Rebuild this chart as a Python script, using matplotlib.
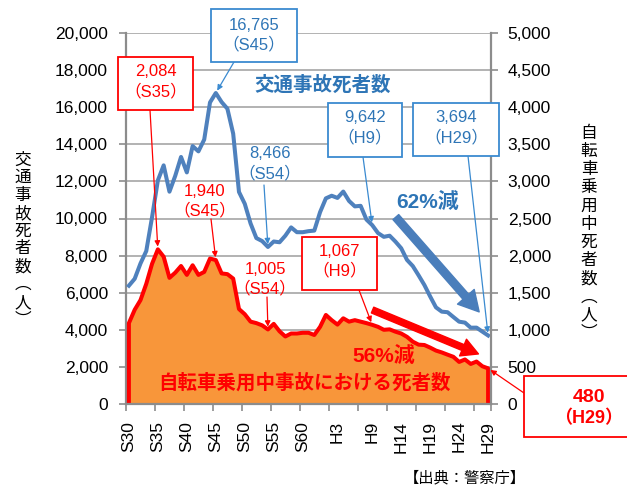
import matplotlib
matplotlib.use('Agg')
import matplotlib.pyplot as plt
from matplotlib.patches import Rectangle, FancyArrowPatch
from matplotlib.ticker import FuncFormatter

plt.rcParams['font.family'] = ['Liberation Sans', 'Noto Sans CJK JP']

# data (S30 = 1955 ... H29 = 2017)
years = list(range(1955, 2018))
traffic_deaths = [6379, 6751, 7575, 8248, 10079, 12055, 12865, 11445, 12301, 13318,
                  12484, 13904, 13618, 14256, 16257, 16765, 16278, 15918, 14574, 11432,
                  10792, 9734, 8945, 8783, 8466, 8760, 8719, 9073, 9520, 9262,
                  9261, 9317, 9347, 10344, 11086, 11227, 11109, 11452, 10945, 10653,
                  10684, 9943, 9642, 9214, 9012, 9073, 8757, 8396, 7768, 7436,
                  6937, 6415, 5796, 5209, 4979, 4948, 4691, 4438, 4388, 4113,
                  4117, 3904, 3694]
bicycle_deaths = [1090, 1270, 1400, 1620, 1890, 2084, 1985, 1700, 1770, 1860,
                  1740, 1870, 1740, 1780, 1960, 1940, 1760, 1750, 1690, 1280,
                  1210, 1110, 1090, 1060, 1005, 1080, 980, 910, 950, 950,
                  960, 960, 930, 1040, 1200, 1130, 1070, 1155, 1110, 1130,
                  1110, 1090, 1067, 1040, 1000, 1006, 975, 950, 905, 840,
                  800, 795, 760, 720, 695, 665, 636, 567, 600, 540,
                  572, 509, 480]
tick_years = [1955, 1960, 1965, 1970, 1975, 1980, 1985, 1991, 1997, 2002, 2007, 2012, 2017]
tick_labels = ['S30', 'S35', 'S40', 'S45', 'S50', 'S55', 'S60', 'H3', 'H9', 'H14', 'H19', 'H24', 'H29']

BLUE_LINE = '#4F81BD'
BLUE_TXT = '#2E75B6'
BLUE_BOX = '#3A8AD0'
RED = '#FF0000'
ORANGE = '#F8963A'
GRAY = '#8C8C8C'

W, H = 627, 491


def fx(px):
    return px / W


def fy(py):
    return 1 - py / H


fig = plt.figure(figsize=(W / 100, H / 100), dpi=100)
ax = fig.add_axes([fx(126), fy(404), (491 - 126) / W, (404 - 33) / H])
ax2 = ax.twinx()

ax.plot(years, traffic_deaths, color=BLUE_LINE, lw=2.9, zorder=3)
ax2.fill_between(years, bicycle_deaths, 0, color=ORANGE, lw=0, zorder=1)
ax2.plot([years[0]] + years + [years[-1]], [0] + bicycle_deaths + [0], color=RED, lw=2.9, zorder=2)

ax.set_xlim(1954.5, 2017.5)
ax.set_ylim(0, 20000)
ax2.set_ylim(0, 5000)

ax.set_yticks(range(0, 20001, 2000))
ax2.set_yticks(range(0, 5001, 500))
fmt = FuncFormatter(lambda v, p: f'{int(v):,}')
ax.yaxis.set_major_formatter(fmt)
ax2.yaxis.set_major_formatter(fmt)
ax.yaxis.grid(True, color='#A6A6A6', lw=1.2)
ax.set_axisbelow(True)

ax.set_xticks([1954.5 + 5 * k for k in range(13)] + [2017.5])
ax.set_xticklabels([])
ax.set_xticks(tick_years, labels=tick_labels, minor=True)
ax.tick_params(axis='x', which='major', length=5, width=1.2, color=GRAY, direction='out')
ax.tick_params(axis='x', which='minor', length=0, pad=12, labelrotation=90, labelsize=12.5)
ax.tick_params(axis='y', length=5, width=1.2, color=GRAY, direction='out', labelsize=12.5, pad=8)
ax2.tick_params(axis='y', length=5, width=1.2, color=GRAY, direction='out', labelsize=12.5, pad=7)

for a in (ax, ax2):
    for s in a.spines.values():
        s.set_visible(False)
ax.spines['left'].set_visible(True)
ax.spines['left'].set_color(GRAY)
ax.spines['left'].set_linewidth(1.6)
ax2.spines['bottom'].set_visible(True)
ax2.spines['bottom'].set_color(GRAY)
ax2.spines['bottom'].set_linewidth(1.6)
ax2.spines['right'].set_visible(True)
ax2.spines['right'].set_color(GRAY)
ax2.spines['right'].set_linewidth(1.6)


def box(x0, y0, x1, y1, color):
    fig.add_artist(Rectangle((fx(x0), fy(y1)), (x1 - x0) / W, (y1 - y0) / H,
                             transform=fig.transFigure, facecolor='white',
                             edgecolor=color, lw=1.3, zorder=4))


def label(px, py, s, color, size=12, weight='normal'):
    fig.text(fx(px), fy(py), s, color=color, fontsize=size, fontweight=weight,
             ha='center', va='center', zorder=5)


def pointer(a, x, y, px, py, color):
    a.annotate('', xy=(x, y), xycoords='data', xytext=(fx(px), fy(py)),
               textcoords='figure fraction',
               arrowprops=dict(arrowstyle='-|>', color=color, lw=0.9,
                               mutation_scale=8, shrinkA=0, shrinkB=2))


# traffic deaths annotations
box(211, 9, 297, 62, BLUE_BOX)
label(254, 25, '16,765', BLUE_TXT)
label(254, 44, '（S45）', BLUE_TXT)
pointer(ax, 1970, traffic_deaths[15], 234, 62, BLUE_BOX)

label(323, 85, '交通事故死者数', BLUE_TXT, 14, 'bold')

label(270, 154, '8,466', BLUE_TXT)
label(270, 173, '（S54）', BLUE_TXT)
pointer(ax, 1979, traffic_deaths[24], 264, 185, BLUE_BOX)

box(328, 103, 402, 157, BLUE_BOX)
label(365, 118, '9,642', BLUE_TXT)
label(365, 137, '（H9）', BLUE_TXT)
pointer(ax, 1997, traffic_deaths[42], 363, 157, BLUE_BOX)

box(413, 103, 499, 156, BLUE_BOX)
label(456, 118, '3,694', BLUE_TXT)
label(456, 137, '（H29）', BLUE_TXT)
pointer(ax, 2017, traffic_deaths[62], 468, 156, BLUE_BOX)

label(428, 202, '62%減', BLUE_TXT, 15, 'bold')
fig.add_artist(FancyArrowPatch((fx(394), fy(215)), (fx(481), fy(314)),
                               transform=fig.transFigure, color='#4A7EBB',
                               arrowstyle='simple,head_length=1.45,head_width=1.6,tail_width=0.55',
                               mutation_scale=10, zorder=4))

# bicycle deaths annotations
box(118, 57, 193, 110, RED)
label(155.5, 72, '2,084', RED)
label(155.5, 91, '（S35）', RED)
pointer(ax2, 1960, bicycle_deaths[5], 150, 110, RED)

label(205, 192, '1,940', RED)
label(205, 210, '（S45）', RED)
pointer(ax2, 1970, bicycle_deaths[15], 211, 219, RED)

label(265, 269, '1,005', RED)
label(265, 288, '（S54）', RED)
pointer(ax2, 1979, bicycle_deaths[24], 267, 297, RED)

box(302, 237, 377, 290, RED)
label(339.5, 252, '1,067', RED)
label(339.5, 270, '（H9）', RED)
pointer(ax2, 1997, bicycle_deaths[42], 359, 290, RED)

label(384, 356, '56%減', RED, 15, 'bold')
fig.add_artist(FancyArrowPatch((fx(370), fy(309)), (fx(481), fy(355)),
                               transform=fig.transFigure, color=RED,
                               arrowstyle='simple,head_length=1.2,head_width=1.3,tail_width=0.45',
                               mutation_scale=10, zorder=4))

label(304, 383, '自転車乗用中事故における死者数', RED, 14, 'bold')

box(524, 376, 640, 437, RED)
label(589, 397, '480', RED, 14, 'bold')
label(589, 419, '（H29）', RED, 13, 'bold')
pointer(ax2, 2017, bicycle_deaths[62], 524, 393, RED)

# axis titles, stacked vertically
for i, ch in enumerate('交通事故死者数︵人︶'):
    label(23, 160 + i * 17.8, ch, 'black', 12)
for i, ch in enumerate('自転車乗用中死者数︵人︶'):
    label(589, 133 + i * 18.2, ch, 'black', 12)

label(465, 478, '【出典：警察庁】', 'black', 11)

fig.savefig('out.png', dpi=100)
